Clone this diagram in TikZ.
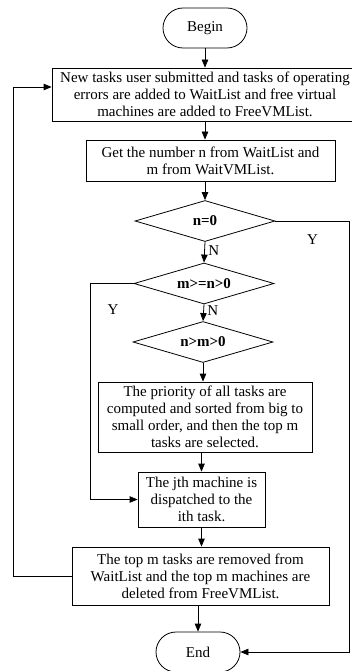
\documentclass[tikz,border=0pt]{standalone}
\usepackage{fontspec}
\setmainfont{Liberation Serif}
\usetikzlibrary{arrows.meta, shapes.geometric}

\begin{document}
\begin{tikzpicture}[
  x=1pt, y=-1pt,
  term/.style={rectangle, rounded corners=20pt, draw, line width=0.8pt,
               minimum width=84pt, minimum height=40pt, font=\fontsize{15}{17}\selectfont},
  proc/.style={rectangle, draw, line width=0.8pt, align=center, inner sep=1pt,
               font=\fontsize{15}{17}\selectfont},
  test/.style={diamond, draw, line width=0.8pt, aspect=3.5, inner sep=0pt,
               minimum width=140pt, minimum height=41pt,
               font=\bfseries\fontsize{15}{17}\selectfont},
  arr/.style={line width=0.8pt, -{Triangle[length=8pt, width=6.5pt]}},
  lab/.style={font=\fontsize{15}{17}\selectfont},
]
\useasboundingbox (0,0) rectangle (351,671);
% ================= main column =================
\node[term] (begin) at (205, 28) {Begin};
\node[proc, minimum width=306pt, minimum height=53pt] (add) at (205, 94.5)
  {New tasks user submitted and tasks of operating\\errors are added to WaitList and free virtual\\machines are added to FreeVMList.};
\node[proc, minimum width=249pt, minimum height=41pt] (getnm) at (210.5, 160.5)
  {Get the number n from WaitList and\\m from WaitVMList.};
\node[test] (dzero) at (205, 221) {n=0};
\node[test] (dmn) at (204, 283.5) {m>=n>0};
\node[test] (dnm) at (203, 342) {n>m>0};
\node[proc, minimum width=214pt, minimum height=70pt] (sort) at (205, 417)
  {The priority of all tasks are\\computed and sorted from big to\\small order, and then the top m\\tasks are selected.};
\node[proc, minimum width=127pt, minimum height=55pt] (dispatch) at (201.5, 499.5)
  {The jth machine is\\dispatched to the\\ith task.};
\node[proc, minimum width=257pt, minimum height=58pt] (remove) at (200.5, 576)
  {The top m tasks are removed from\\WaitList and the top m machines are\\deleted from FreeVMList.};
\node[term] (finish) at (198, 652) {End};
% side rails
\coordinate (rside) at (349.5, 0);
\coordinate (lside) at (90, 0);
\coordinate (loop) at (13, 0);
% ================= straight flow =================
\draw[arr] (begin.south) -- (add.north -| begin);
\draw[arr] (add.south -| dzero) -- (getnm.north -| dzero);
\draw[arr] (getnm.south -| dzero) -- (dzero.north);
\draw[arr] (dzero.south) -- node[right, lab, pos=0.4] {N} (dmn.north);
\draw[arr] (dmn.south) -- node[right, lab, pos=0.4] {N} (dnm.north);
\draw[arr] (dnm.south) -- (sort.north -| dnm);
\draw[arr] (sort.south -| dispatch) -- (dispatch.north);
\draw[arr] (dispatch.south) -- (remove.north -| dispatch);
\draw[arr] (remove.south -| finish) -- (finish.north);
% ================= branches and loop =================
\draw[arr] (dzero.east) -- node[below, lab, pos=0.5, yshift=-10pt] {Y} (dzero.east -| rside) |- (finish.east);
\draw[arr] (dmn.west) -- (dmn.west -| lside) |- (dispatch.west);
\node[lab] (ylab) at (113, 310) {Y};
\draw[arr] (remove.west) -- (remove.west -| loop) |- ([yshift=7.5pt]add.west);
\end{tikzpicture}
\end{document}
